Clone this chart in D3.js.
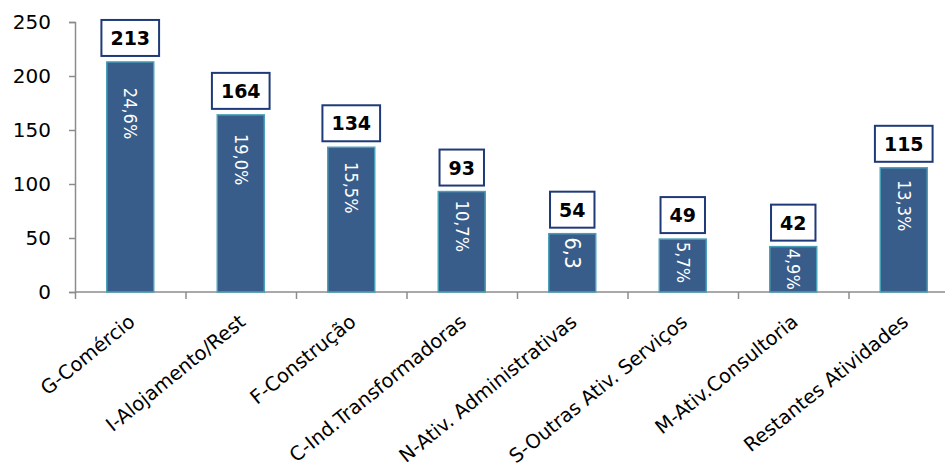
<!DOCTYPE html>
<html>
<head>
<meta charset="utf-8">
<script src="https://cdn.jsdelivr.net/npm/d3@7"></script>
<style>
  html, body { margin: 0; padding: 0; background: #fff; }
  svg { display: block; }
</style>
</head>
<body>
<svg id="chart" width="945" height="473"></svg>
<script>
// Empresas por setor de atividade
const categories = [
  "G-Comércio",
  "I-Alojamento/Rest",
  "F-Construção",
  "C-Ind.Transformadoras",
  "N-Ativ. Administrativas",
  "S-Outras Ativ. Serviços",
  "M-Ativ.Consultoria",
  "Restantes Atividades"
];
const values = [213, 164, 134, 93, 54, 49, 42, 115];
const shares = ["24,6%", "19,0%", "15,5%", "10,7%", "6,3", "5,7%", "4,9%", "13,3%"];
const yTicks = [0, 50, 100, 150, 200, 250];

const svg = d3.select("#chart");
const plotLeft = 75, plotTop = 22, plotBottom = 292, step = 110.5;
const plotRight = plotLeft + step * categories.length;

const x = d3.scaleBand()
  .domain(categories)
  .range([plotLeft, plotRight])
  .padding(0);
const y = d3.scaleLinear().domain([0, 250]).range([plotBottom, plotTop]);

const barW = x.bandwidth() * 0.425;
const axisColor = "#8c8c8c";

// y axis
const yAxis = svg.append("g")
  .attr("transform", `translate(${plotLeft},0)`)
  .call(d3.axisLeft(y).tickValues(yTicks).tickSize(6).tickPadding(18));
yAxis.select(".domain").attr("stroke", axisColor).attr("stroke-width", 1.5);
yAxis.selectAll(".tick line").attr("stroke", axisColor).attr("stroke-width", 1.5);
yAxis.selectAll(".tick text")
  .attr("fill", "#000")
  .style("font-family", "'DejaVu Sans', Verdana, sans-serif")
  .style("font-size", "20px");

// x axis: ticks at the band boundaries
const xb = d3.scaleLinear().domain([0, categories.length]).range([plotLeft, plotRight]);
const xAxis = svg.append("g")
  .attr("transform", `translate(0,${plotBottom})`)
  .call(d3.axisBottom(xb).tickValues(d3.range(categories.length + 1)).tickSize(7).tickFormat(""));
xAxis.select(".domain").attr("stroke", axisColor).attr("stroke-width", 1.5)
  .attr("d", `M${plotLeft},0H${plotRight}`);
xAxis.selectAll(".tick line").attr("stroke", axisColor).attr("stroke-width", 1.5);

// category labels
svg.append("g").selectAll("text")
  .data(categories)
  .join("text")
  .attr("transform", d => `translate(${x(d) + x.bandwidth() / 2 + 6},${plotBottom + 32}) rotate(-39)`)
  .attr("text-anchor", "end")
  .attr("fill", "#000")
  .style("font-family", "'DejaVu Sans', Verdana, sans-serif")
  .style("font-size", "19.5px")
  .text(d => d);

// bars
const cx = d => x(d) + x.bandwidth() / 2;
svg.append("g").selectAll("rect")
  .data(categories)
  .join("rect")
  .attr("x", d => cx(d) - barW / 2)
  .attr("y", (d, i) => y(values[i]))
  .attr("width", barW)
  .attr("height", (d, i) => y(0) - y(values[i]))
  .attr("fill", "#385d8a")
  .attr("stroke", "#4a9fb8")
  .attr("stroke-width", 1.5);

// share labels, rotated inside the bars
svg.append("g").selectAll("text")
  .data(categories)
  .join("text")
  .attr("transform", (d, i) => {
    const h = y(0) - y(values[i]);
    const off = Math.max(2, 0.13 * h - 4);
    const big = !shares[i].endsWith("%");
    return `translate(${cx(d) - (big ? 7 : 6)},${y(values[i]) + off}) rotate(90)`;
  })
  .attr("text-anchor", "start")
  .attr("fill", "#fff")
  .style("font-family", "'DejaVu Sans Condensed', 'Liberation Sans', sans-serif")
  .style("font-size", (d, i) => shares[i].endsWith("%") ? "18px" : "22px")
  .text((d, i) => shares[i]);

// value boxes above the bars
const boxes = svg.append("g").selectAll("g")
  .data(categories)
  .join("g");
boxes.append("text")
  .attr("x", d => cx(d))
  .attr("y", (d, i) => y(values[i]) - 6 - 18)
  .attr("text-anchor", "middle")
  .attr("dominant-baseline", "central")
  .attr("fill", "#000")
  .style("font-family", "'DejaVu Sans', Verdana, sans-serif")
  .style("font-weight", "bold")
  .style("font-size", "19px")
  .text((d, i) => values[i]);
boxes.each(function (d, i) {
  const g = d3.select(this);
  const t = g.select("text");
  const w = t.node().getComputedTextLength() + 18;
  g.insert("rect", "text")
    .attr("x", cx(d) - w / 2)
    .attr("y", y(values[i]) - 6 - 36)
    .attr("width", w)
    .attr("height", 36)
    .attr("fill", "#fff")
    .attr("stroke", "#1f3a78")
    .attr("stroke-width", 2);
});
</script>
</body>
</html>
